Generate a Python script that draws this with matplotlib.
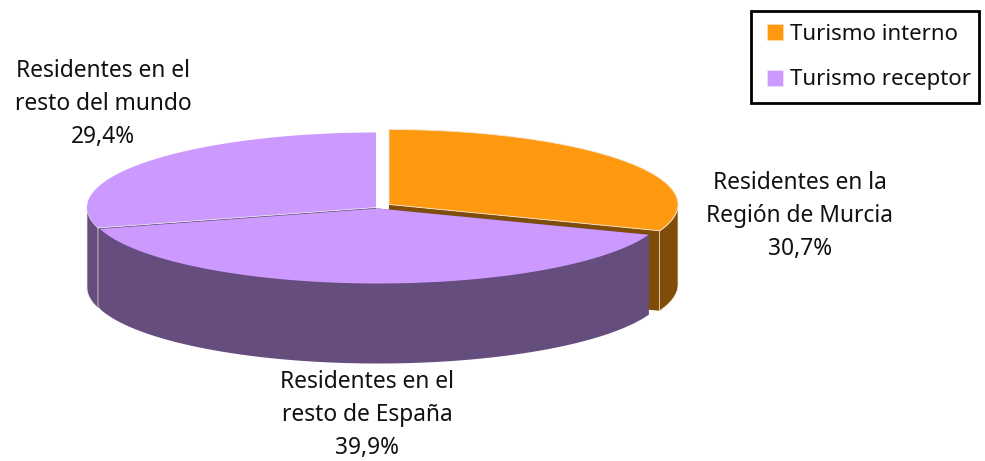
import numpy as np
import matplotlib
matplotlib.use("Agg")
import matplotlib.pyplot as plt
from matplotlib.patches import Polygon, Patch, Rectangle

names = ["Residentes en la\nRegión de Murcia", "Residentes en el\nresto de España", "Residentes en el\nresto del mundo"]
shares = [30.7, 39.9, 29.4]
value_labels = ["30,7%", "39,9%", "29,4%"]
legend_labels = ["Turismo interno", "Turismo receptor"]

orange = "#FF9A10"
lilac = "#CC99FF"
brown = "#804D08"
dark_lilac = "#654D7E"
edge = "#F3E6D8"

rx, ry, depth = 289, 75, 80
centers = [(389, 204.5), (378, 208.5), (376, 207.5)]
top_colors = [orange, lilac, lilac]
side_colors = [brown, dark_lilac, dark_lilac]
label_pos = [(800, 216), (367, 415), (103, 104)]

plt.rcParams["font.family"] = ["Noto Sans", "DejaVu Sans"]
fig = plt.figure(figsize=(9.85, 4.61), dpi=100)
ax = fig.add_axes([0, 0, 1, 1])
ax.set_xlim(0, 985)
ax.set_ylim(461, 0)
ax.axis("off")


def rim(c, a):
    # angle in degrees, clockwise from the top of the pie
    t = np.radians(a)
    return np.column_stack([c[0] + rx * np.sin(t), c[1] - ry * np.cos(t)])


ends = np.cumsum(shares) * 3.6
starts = ends - np.array(shares) * 3.6

# far slice first, front slice last so it hides the inner walls
for z, i in enumerate([2, 0, 1]):
    c = centers[i]
    arc = rim(c, np.linspace(starts[i], ends[i], 200))
    apex = np.array([c])
    down = np.array([0, depth])

    # radial walls
    for p in (arc[0], arc[-1]):
        wall = np.array([apex[0], p, p + down, apex[0] + down])
        ax.add_patch(Polygon(wall, fc=side_colors[i], ec="none", zorder=z + 1))

    # outer wall, only the part facing the viewer
    a = np.linspace(max(starts[i], 90), min(ends[i], 270), 200)
    front = rim(c, a)
    wall = np.vstack([front, front[::-1] + down])
    ax.add_patch(Polygon(wall, fc=side_colors[i], ec=edge if i != 1 else "none", lw=0.5, zorder=z + 1))

    top = np.vstack([apex, arc])
    ax.add_patch(Polygon(top, fc=top_colors[i], ec=edge if i == 0 else "none", lw=0.6, zorder=z + 1))

    # pale line along the cut edge of the far slice
    if i == 2:
        ax.plot([c[0], arc[0][0]], [c[1], arc[0][1]], color="#E8E0F0", lw=0.6, zorder=z + 1)

for name, val, pos in zip(names, value_labels, label_pos):
    ax.text(pos[0], pos[1], name + "\n" + val, ha="center", va="center",
            fontsize=16.4, linespacing=1.5, color="#111111", zorder=10)

ax.add_patch(Rectangle((751, 11), 228, 92, fc="white", ec="black", lw=2, zorder=11))
handles = [Patch(fc=orange, ec="#FFE0B0", lw=0.5), Patch(fc=lilac, ec="#EFE4FA", lw=0.5)]
leg = ax.legend(handles, legend_labels, loc="upper left", bbox_to_anchor=(767, 24),
                bbox_transform=ax.transData, fontsize=16, frameon=False,
                handlelength=0.72, handleheight=0.72, handletextpad=0.33,
                labelspacing=1.1, borderpad=0, borderaxespad=0, labelcolor="#111111")
leg.set_zorder(12)

fig.savefig("out.png", dpi=100)
